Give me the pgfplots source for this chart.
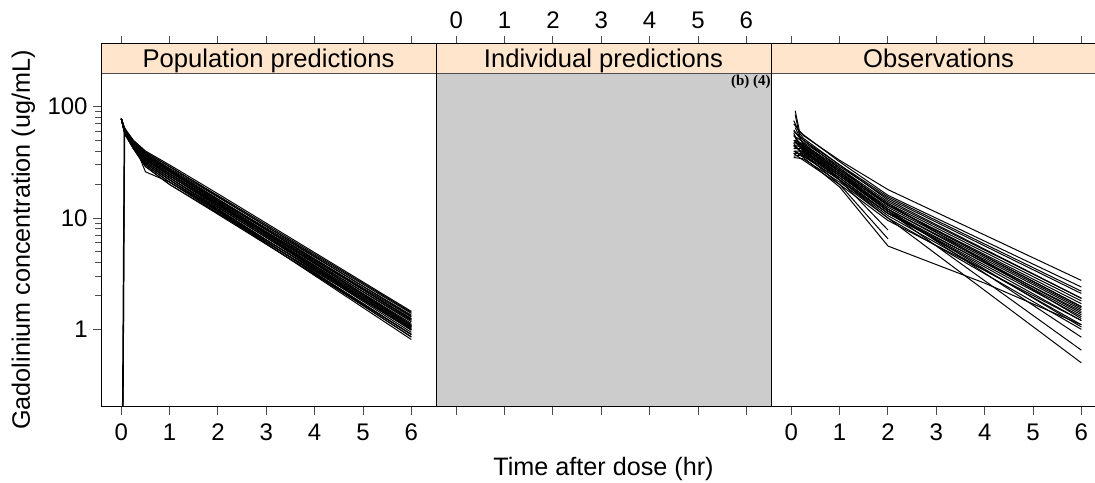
\documentclass[border=0pt]{standalone}
\usepackage{fontspec}
\setmainfont{Liberation Sans}
\newfontfamily\tnr{Liberation Serif}
\usepackage{pgfplots}
\pgfplotsset{compat=1.18}
\definecolor{stripcol}{HTML}{FFE5CC}
\definecolor{panelgray}{HTML}{CCCCCC}
\definecolor{tickgray}{HTML}{4D4D4D}

\tikzset{pl/.style={black, line width=0.5pt}}
\pgfkeys{/pgf/number format/assume math mode=true}
\pgfplotsset{
  lattice/.style={
    scale only axis,
    axis on top,
    width=167.5pt, height=181.6pt,
    xmin=-0.42, xmax=6.51,
    ymin=0.2018, ymax=369.8,
    xtick={0,...,6},
    ytick={1,10,100},
    yticklabels={1,10,100},
    tick align=outside,
    major tick length=4pt,
    tick style={tickgray, line width=0.5pt},
    axis line style={line width=0.5pt},
    tick label style={font=\fontsize{12}{14}\selectfont},
    label style={font=\fontsize{12.6}{14}\selectfont},
  },
}
% strip across the top of each panel
\newcommand{\panelstrip}[1]{%
  \fill[stripcol] (rel axis cs:0,0.918) rectangle (rel axis cs:1,1);
  \draw[tickgray, line width=0.5pt] (rel axis cs:0,0.918) -- (rel axis cs:1,0.918);
  \node[anchor=base, inner sep=0pt, font=\fontsize{12.8}{14}\selectfont] at (rel axis cs:0.5,0.9334) {#1};
}

\begin{document}
\begin{tikzpicture}
% ---------- Population predictions
\begin{axis}[ymode=log, lattice, name=p1, at={(0,0)}, anchor=south west,
  xtick pos=both, xticklabel pos=lower, ytick pos=left,
  xticklabel shift=1pt, yticklabel style={inner xsep=2.5pt},
  ylabel={Gadolinium concentration (ug/mL)},
  ylabel style={at={(axis description cs:-0.232,0.459)}, anchor=center}]
\panelstrip{Population predictions}
\addplot[pl] coordinates {(0,78) (0.07,64) (0.25,50) (0.5,40) (1,30) (2,16.5) (6,1.45)};
\addplot[pl] coordinates {(0,78) (0.07,63) (0.25,49) (0.5,39) (1,29) (2,15.9) (6,1.42)};
\addplot[pl] coordinates {(0,78) (0.07,63) (0.25,48) (0.5,38) (1,28) (2,15.4) (6,1.39)};
\addplot[pl] coordinates {(0,78) (0.07,62) (0.25,48) (0.5,37) (1,27) (2,14.8) (6,1.34)};
\addplot[pl] coordinates {(0,78) (0.07,62) (0.25,47) (0.5,37) (1,27) (2,14.5) (6,1.22)};
\addplot[pl] coordinates {(0,78) (0.07,62) (0.25,47) (0.5,36) (1,26) (2,14.3) (6,1.29)};
\addplot[pl] coordinates {(0,78) (0.07,61) (0.25,47) (0.5,36) (1,26) (2,14.0) (6,1.17)};
\addplot[pl] coordinates {(0,78) (0.07,61) (0.25,46) (0.5,35) (1,25) (2,13.7) (6,1.25)};
\addplot[pl] coordinates {(0,78) (0.07,61) (0.25,46) (0.5,35) (1,25) (2,13.5) (6,1.13)};
\addplot[pl] coordinates {(0,78) (0.07,60) (0.25,46) (0.5,34) (1,25) (2,13.2) (6,1.02)};
\addplot[pl] coordinates {(0,78) (0.07,60) (0.25,45) (0.5,34) (1,24) (2,13.2) (6,1.20)};
\addplot[pl] coordinates {(0,78) (0.07,60) (0.25,45) (0.5,33) (1,24) (2,12.9) (6,1.08)};
\addplot[pl] coordinates {(0,78) (0.07,60) (0.25,45) (0.5,33) (1,24) (2,12.6) (6,0.98)};
\addplot[pl] coordinates {(0,78) (0.07,59) (0.25,44) (0.5,32) (1,23) (2,12.4) (6,1.04)};
\addplot[pl] coordinates {(0,78) (0.07,59) (0.25,44) (0.5,32) (1,23) (2,12.1) (6,0.94)};
\addplot[pl] coordinates {(0,78) (0.07,59) (0.25,44) (0.5,32) (1,23) (2,11.9) (6,0.85)};
\addplot[pl] coordinates {(0,78) (0.07,59) (0.25,44) (0.5,31) (1,22) (2,11.8) (6,0.99)};
\addplot[pl] coordinates {(0,78) (0.07,58) (0.25,43) (0.5,31) (1,22) (2,11.6) (6,0.90)};
\addplot[pl] coordinates {(0,78) (0.07,58) (0.25,43) (0.5,31) (1,22) (2,11.4) (6,0.81)};
\addplot[pl] coordinates {(0,78) (0.07,58) (0.25,43) (0.5,30) (1,21) (2,11.5) (6,1.05)};
\addplot[pl] coordinates {(0,78) (0.07,58) (0.25,42) (0.5,30) (1,21) (2,11.1) (6,0.86)};
\addplot[pl] coordinates {(0,78) (0.07,57) (0.25,42) (0.5,29) (1,20) (2,11.0) (6,1.00)};
\addplot[pl] coordinates {(0,78) (0.07,57) (0.25,42) (0.5,29) (1,20) (2,10.8) (6,0.90)};
\addplot[pl] coordinates {(0,78) (0.07,62) (0.25,48) (0.5,26) (1,21) (2,11.5) (6,0.90)};
\addplot[pl] coordinates {(0,78) (0.07,62) (0.25,48) (0.5,38) (1,27.5) (2,14.8) (6,1.24)};
\addplot[pl] coordinates {(0,78) (0.07,61) (0.25,47) (0.5,37) (1,26.5) (2,14.0) (6,1.08)};
\addplot[pl] coordinates {(0,78) (0.07,64) (0.25,49) (0.5,39) (1,29) (2,15.6) (6,1.31)};
\addplot[pl] coordinates {(0.03,0.1) (0.07,58) (0.25,46) (0.5,36) (1,26) (2,14) (6,1.1)};
\addplot[pl] coordinates {(0.02,0.1) (0.06,57) (0.25,45) (0.5,34) (1,24) (2,13) (6,1.0)};
\addplot[pl] coordinates {(0.035,0.1) (0.065,58) (0.25,47) (0.5,35) (1,25) (2,13.5) (6,1.05)};
\end{axis}

% ---------- Individual predictions (empty panel)
\begin{axis}[ymode=log, lattice, name=p2, at={(167.5pt,0)}, anchor=south west,
  xticklabel pos=upper, xtick pos=both, ytick=\empty,
  xlabel={Time after dose (hr)},
  xlabel style={at={(axis description cs:0.5,-0.1715)}, anchor=center}]
\fill[panelgray] (rel axis cs:0,0) rectangle (rel axis cs:1,0.918);
\panelstrip{Individual predictions}
\node[anchor=north east, inner sep=0pt, font=\tnr\bfseries\fontsize{7.5}{8}\selectfont]
  at (rel axis cs:1,0.913) {(b) (4)};
\end{axis}

% ---------- Observations
\begin{axis}[ymode=log, lattice, name=p3, at={(335pt,0)}, anchor=south west,
  xtick pos=both, xticklabel pos=lower, ytick=\empty,
  xticklabel shift=1pt]
\panelstrip{Observations}
\addplot[pl] coordinates {(0.05,70) (0.25,55) (1,33) (2,18) (6,2.75)};
\addplot[pl] coordinates {(0.08,92) (0.17,60) (0.25,56) (1,32) (2,16) (6,2.4)};
\addplot[pl] coordinates {(0.05,60) (0.25,50) (1,30) (2,15.5) (6,2.2)};
\addplot[pl] coordinates {(0.05,55) (0.25,48) (1,29) (2,15) (6,2.1)};
\addplot[pl] coordinates {(0.07,50) (0.25,46) (1,28) (2,14) (6,1.9)};
\addplot[pl] coordinates {(0.05,48) (0.25,45) (1,27) (2,13.5) (6,1.8)};
\addplot[pl] coordinates {(0.08,52) (0.25,44) (1,26) (2,13) (6,1.7)};
\addplot[pl] coordinates {(0.05,45) (0.25,43) (1,26) (2,13) (6,1.6)};
\addplot[pl] coordinates {(0.05,42) (0.25,42) (1,25) (2,12.5) (6,1.55)};
\addplot[pl] coordinates {(0.07,40) (0.25,40) (1,25) (2,12) (6,1.5)};
\addplot[pl] coordinates {(0.05,58) (0.17,45) (0.25,40) (1,24) (2,12) (6,1.4)};
\addplot[pl] coordinates {(0.05,38) (0.25,38) (1,24) (2,11.5) (6,1.35)};
\addplot[pl] coordinates {(0.05,36) (0.25,37) (1,23) (2,11) (6,1.3)};
\addplot[pl] coordinates {(0.08,65) (0.25,45) (1,27) (2,13.5) (6,1.25)};
\addplot[pl] coordinates {(0.05,44) (0.25,39) (1,23) (2,11) (6,1.2)};
\addplot[pl] coordinates {(0.05,47) (0.25,36) (1,22) (2,10.5) (6,1.1)};
\addplot[pl] coordinates {(0.07,50) (0.25,41) (1,24) (2,11.5) (6,1.05)};
\addplot[pl] coordinates {(0.05,35) (0.25,34) (1,21) (2,10) (6,1.0)};
\addplot[pl] coordinates {(0.05,62) (0.25,47) (1,26) (2,12) (6,0.85)};
\addplot[pl] coordinates {(0.05,55) (0.25,43) (1,25) (2,11.5) (6,0.65)};
\addplot[pl] coordinates {(0.08,48) (0.25,40) (1,22) (2,10) (6,0.5)};
\addplot[pl] coordinates {(0.05,50) (0.25,42) (1,22) (2,7.8)};
\addplot[pl] coordinates {(0.05,45) (0.25,38) (1,20) (2,6.5)};
\addplot[pl] coordinates {(0.05,40) (0.25,35) (1,19) (2,5.6) (4,2.6) (6,1.1)};
\addplot[pl] coordinates {(0.05,75) (0.17,58) (0.25,52) (1,30) (2,14.5) (6,1.9)};
\addplot[pl] coordinates {(0.07,40) (0.25,36) (1,22) (2,11) (6,1.45)};
\addplot[pl] coordinates {(0.05,38) (0.25,33) (1,20) (2,9.5) (6,1.2)};
\addplot[pl] coordinates {(0.08,85) (0.17,55) (0.25,50) (1,28) (2,13) (6,1.6)};
\end{axis}

\pgfresetboundingbox
\useasboundingbox (-50.5pt,-37.65pt) rectangle (497pt,203.35pt);
\end{tikzpicture}
\end{document}
